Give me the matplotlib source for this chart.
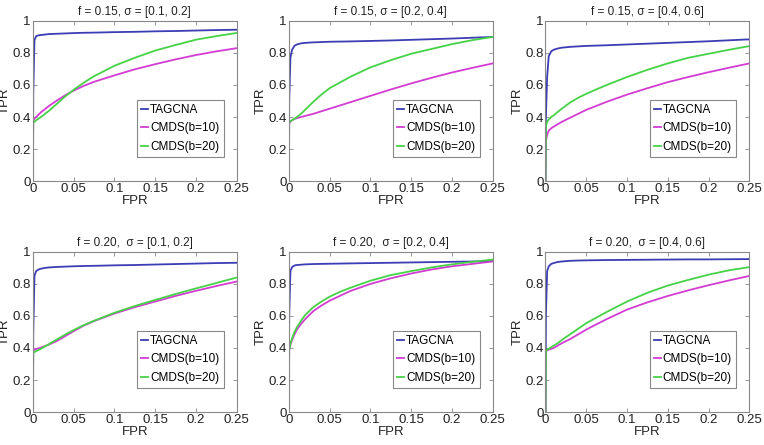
import matplotlib
matplotlib.use("Agg")
import matplotlib.pyplot as plt

plt.rcParams["font.family"] = ["Liberation Sans", "DejaVu Sans"]

fpr = [0, 0.0005, 0.002, 0.004, 0.007, 0.01, 0.015, 0.02, 0.03, 0.04,
       0.05, 0.0625, 0.075, 0.1, 0.125, 0.15, 0.175, 0.2, 0.225, 0.25]

titles = ["f = 0.15, σ = [0.1, 0.2]", "f = 0.15, σ = [0.2, 0.4]", "f = 0.15, σ = [0.4, 0.6]",
          "f = 0.20,  σ = [0.1, 0.2]", "f = 0.20,  σ = [0.2, 0.4]", "f = 0.20,  σ = [0.4, 0.6]"]

tagcna = [
    [0, 0.55, 0.88, 0.905, 0.91, 0.912, 0.915, 0.918, 0.92, 0.922, 0.924, 0.926, 0.927, 0.93, 0.932, 0.935, 0.937, 0.94, 0.943, 0.945],
    [0, 0.5, 0.77, 0.82, 0.845, 0.853, 0.86, 0.863, 0.866, 0.868, 0.87, 0.871, 0.872, 0.875, 0.878, 0.882, 0.886, 0.89, 0.895, 0.9],
    [0, 0.4, 0.65, 0.78, 0.81, 0.82, 0.828, 0.833, 0.838, 0.841, 0.844, 0.846, 0.848, 0.853, 0.858, 0.863, 0.868, 0.873, 0.879, 0.885],
    [0, 0.5, 0.85, 0.88, 0.89, 0.895, 0.9, 0.903, 0.906, 0.908, 0.91, 0.912, 0.913, 0.916, 0.918, 0.921, 0.924, 0.927, 0.93, 0.932],
    [0, 0.6, 0.88, 0.905, 0.915, 0.918, 0.92, 0.922, 0.924, 0.925, 0.926, 0.927, 0.928, 0.93, 0.932, 0.934, 0.936, 0.938, 0.94, 0.943],
    [0, 0.6, 0.88, 0.91, 0.925, 0.93, 0.937, 0.94, 0.944, 0.946, 0.947, 0.948, 0.949, 0.95, 0.951, 0.952, 0.953, 0.953, 0.954, 0.955],
]
cmds10 = [
    [0, 0.38, 0.39, 0.40, 0.415, 0.43, 0.45, 0.47, 0.505, 0.537, 0.565, 0.595, 0.62, 0.66, 0.698, 0.73, 0.76, 0.787, 0.81, 0.83],
    [0, 0.36, 0.372, 0.38, 0.388, 0.393, 0.40, 0.407, 0.42, 0.436, 0.452, 0.472, 0.492, 0.532, 0.572, 0.61, 0.645, 0.678, 0.707, 0.735],
    [0, 0.25, 0.29, 0.315, 0.33, 0.34, 0.355, 0.37, 0.395, 0.42, 0.445, 0.47, 0.495, 0.54, 0.58, 0.618, 0.65, 0.68, 0.708, 0.735],
    [0, 0.385, 0.39, 0.393, 0.398, 0.403, 0.412, 0.422, 0.445, 0.475, 0.505, 0.54, 0.568, 0.615, 0.655, 0.69, 0.725, 0.757, 0.787, 0.815],
    [0, 0.39, 0.42, 0.45, 0.485, 0.515, 0.55, 0.58, 0.63, 0.665, 0.695, 0.725, 0.755, 0.80, 0.835, 0.865, 0.89, 0.91, 0.925, 0.94],
    [0, 0.38, 0.385, 0.39, 0.395, 0.40, 0.415, 0.43, 0.455, 0.485, 0.515, 0.548, 0.58, 0.64, 0.685, 0.725, 0.76, 0.792, 0.822, 0.85],
]
cmds20 = [
    [0, 0.365, 0.37, 0.38, 0.39, 0.40, 0.42, 0.44, 0.485, 0.53, 0.57, 0.615, 0.655, 0.72, 0.77, 0.815, 0.85, 0.883, 0.905, 0.925],
    [0, 0.37, 0.375, 0.38, 0.39, 0.40, 0.42, 0.445, 0.495, 0.54, 0.58, 0.615, 0.65, 0.71, 0.755, 0.795, 0.825, 0.855, 0.88, 0.9],
    [0, 0.34, 0.37, 0.385, 0.40, 0.41, 0.432, 0.452, 0.49, 0.52, 0.545, 0.573, 0.60, 0.65, 0.695, 0.735, 0.77, 0.795, 0.82, 0.843],
    [0, 0.37, 0.375, 0.38, 0.388, 0.395, 0.41, 0.425, 0.455, 0.485, 0.512, 0.543, 0.57, 0.62, 0.662, 0.70, 0.737, 0.772, 0.806, 0.84],
    [0, 0.39, 0.43, 0.46, 0.50, 0.53, 0.57, 0.605, 0.655, 0.69, 0.72, 0.75, 0.775, 0.82, 0.855, 0.88, 0.903, 0.922, 0.938, 0.952],
    [0, 0.38, 0.39, 0.395, 0.405, 0.415, 0.43, 0.45, 0.485, 0.52, 0.555, 0.59, 0.625, 0.69, 0.745, 0.79, 0.825, 0.858, 0.885, 0.905],
]

xticks = [0, 0.05, 0.1, 0.15, 0.2, 0.25]
xticklabels = ["0", "0.05", "0.1", "0.15", "0.2", "0.25"]
yticks = [0, 0.2, 0.4, 0.6, 0.8, 1]
yticklabels = ["0", "0.2", "0.4", "0.6", "0.8", "1"]

fig = plt.figure(figsize=(7.64, 4.45), dpi=100)

lefts = [0.043, 0.378, 0.714]
bottoms = [0.593, 0.074]
w, h = 0.267, 0.36

for i in range(6):
    r, c = divmod(i, 3)
    ax = fig.add_axes([lefts[c], bottoms[r], w, h])
    ax.plot(fpr, tagcna[i], color="#3c3cb4", lw=1.3, label="TAGCNA")
    ax.plot(fpr, cmds10[i], color="#d23cd2", lw=1.3, label="CMDS(b=10)")
    ax.plot(fpr, cmds20[i], color="#46d246", lw=1.3, label="CMDS(b=20)")
    ax.set_xlim(0, 0.25)
    ax.set_ylim(0, 1)
    ax.set_xticks(xticks)
    ax.set_xticklabels(xticklabels)
    ax.set_yticks(yticks)
    ax.set_yticklabels(yticklabels)
    ax.tick_params(direction="in", top=True, right=True, length=3, width=0.6,
                   color="#888888", labelsize=9.5, pad=1.5, labelcolor="#222222")
    for s in ax.spines.values():
        s.set_color("#888888")
        s.set_linewidth(0.8)
    ax.set_title(titles[i], fontsize=8.5, pad=4, color="#222222")
    ax.set_xlabel("FPR", fontsize=9.5, labelpad=0, color="#222222")
    ax.set_ylabel("TPR", fontsize=9.5, labelpad=1, color="#222222")
    leg = ax.legend(loc="lower right", bbox_to_anchor=(0.935, 0.15),
                    fontsize=8.5, handlelength=0.6, handletextpad=0.15,
                    borderpad=0.35, labelspacing=0.55, borderaxespad=0,
                    fancybox=False, framealpha=1)
    leg.get_frame().set_edgecolor("#888888")
    leg.get_frame().set_linewidth(0.8)

fig.savefig("out.png", dpi=100)
